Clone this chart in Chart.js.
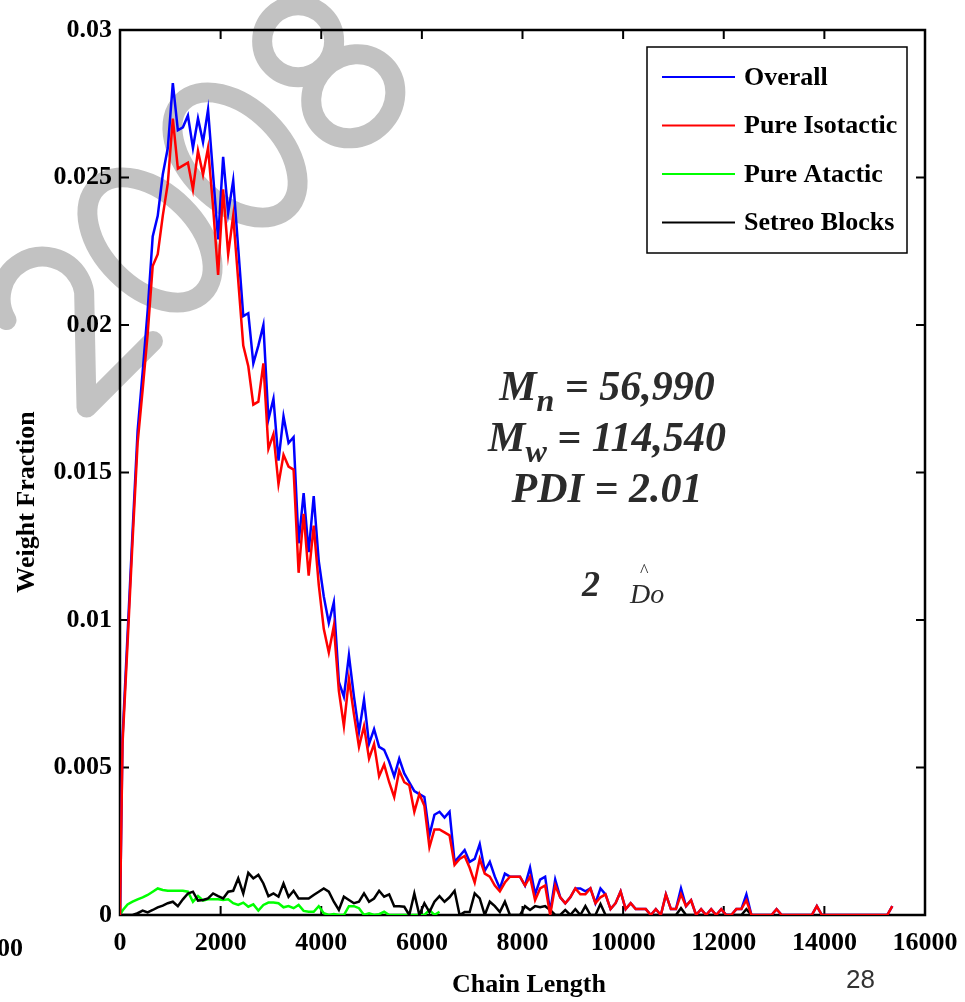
<!DOCTYPE html>
<html>
<head>
<meta charset="utf-8">
<script src="https://cdn.jsdelivr.net/npm/chart.js@4.4.1/dist/chart.umd.min.js"></script>
<style>
  html, body { margin: 0; padding: 0; background: #fff; }
  canvas { display: block; }
</style>
</head>
<body>
<canvas id="mwdChart" width="965" height="1002"></canvas>
<script>
const serif = "'Liberation Serif', 'Times New Roman', serif";

// chain length bins: the origin, then bin centres every 100 units
const chainLength = [0].concat(Array.from({ length: 154 }, (_, i) => 50 + 100 * i));

const overall = [0,
  0.0060, 0.0095, 0.0130, 0.0164, 0.0184, 0.0205, 0.0230, 0.0237, 0.0251, 0.0260,
  0.0282, 0.0266, 0.0267, 0.0271, 0.0260, 0.0270, 0.0262, 0.0273, 0.0251, 0.0229,
  0.0257, 0.0238, 0.0249, 0.0226, 0.0203, 0.0204, 0.0187, 0.0193, 0.0200, 0.0168,
  0.0175, 0.0154, 0.0169, 0.0160, 0.0162, 0.0126, 0.0143, 0.0123, 0.0142, 0.0120,
  0.0108, 0.0099, 0.0106, 0.0079, 0.0074, 0.0088, 0.0074, 0.0062, 0.0073, 0.0058,
  0.0063, 0.0057, 0.0056, 0.0052, 0.0047, 0.0053, 0.0048, 0.0045, 0.0042, 0.0041,
  0.0040, 0.0027, 0.0034, 0.0035, 0.0033, 0.0035, 0.0018, 0.0020, 0.0022, 0.0018,
  0.0019, 0.0024, 0.0015, 0.0018, 0.0013, 0.0009, 0.0014, 0.0013, 0.0013, 0.0013,
  0.0010, 0.0016, 0.0007, 0.0012, 0.0013, 0.0001, 0.0012, 0.0006, 0.0004, 0.0006,
  0.0009, 0.0009, 0.0008, 0.0009, 0.0004, 0.0009, 0.0007, 0.0002, 0.0004, 0.0008,
  0.0002, 0.0004, 0.0002, 0.0002, 0.0002, 0, 0.0002, 0, 0.0007, 0.0002,
  0.0002, 0.0009, 0.0003, 0.0005, 0, 0.0002, 0, 0.0002, 0, 0.0002,
  0, 0, 0.0002, 0.0002, 0.0007, 0, 0, 0, 0, 0,
  0.0002, 0, 0, 0, 0, 0, 0, 0, 0.0003, 0,
  0, 0, 0, 0, 0, 0, 0, 0, 0, 0,
  0, 0, 0, 0.0003];

const isotactic = [0,
  0.0058, 0.0092, 0.0127, 0.0160, 0.0178, 0.0197, 0.0220, 0.0224, 0.0237, 0.0248,
  0.0270, 0.0253, 0.0254, 0.0255, 0.0246, 0.0259, 0.0251, 0.0260, 0.0240, 0.0217,
  0.0246, 0.0224, 0.0237, 0.0215, 0.0193, 0.0186, 0.0173, 0.0174, 0.0187, 0.0158,
  0.0163, 0.0146, 0.0156, 0.0152, 0.0151, 0.0116, 0.0136, 0.0115, 0.0132, 0.0112,
  0.0097, 0.0089, 0.0098, 0.0076, 0.0064, 0.0080, 0.0068, 0.0057, 0.0064, 0.0053,
  0.0058, 0.0047, 0.0051, 0.0045, 0.0040, 0.0049, 0.0045, 0.0044, 0.0035, 0.0041,
  0.0037, 0.0023, 0.0029, 0.0029, 0.0028, 0.0027, 0.0017, 0.0019, 0.0020, 0.0016,
  0.0011, 0.0019, 0.0014, 0.0013, 0.0010, 0.0008, 0.0011, 0.0013, 0.0013, 0.0013,
  0.0010, 0.0013, 0.0005, 0.0009, 0.0010, 0, 0.0010, 0.0006, 0.0004, 0.0006,
  0.0009, 0.0007, 0.0007, 0.0009, 0.0004, 0.0006, 0.0007, 0.0002, 0.0004, 0.0008,
  0.0002, 0.0004, 0.0002, 0.0002, 0.0002, 0, 0.0002, 0, 0.0007, 0.0002,
  0.0002, 0.0007, 0.0003, 0.0005, 0, 0.0002, 0, 0.0002, 0, 0.0002,
  0, 0, 0.0002, 0.0002, 0.0005, 0, 0, 0, 0, 0,
  0.0002, 0, 0, 0, 0, 0, 0, 0, 0.0003, 0,
  0, 0, 0, 0, 0, 0, 0, 0, 0, 0,
  0, 0, 0, 0.0003];

const atactic = [0,
  0.00015, 0.00036, 0.00045, 0.00053, 0.00060, 0.00068, 0.00079, 0.00090, 0.00085, 0.00082,
  0.00082, 0.00082, 0.00082, 0.00079, 0.00045, 0.00064, 0.00049, 0.00053, 0.00053, 0.00053,
  0.00051, 0.00053, 0.00040, 0.00034, 0.00042, 0.00028, 0.00036, 0.00015, 0.00034, 0.00042,
  0.00042, 0.00040, 0.00026, 0.00030, 0.00023, 0.00034, 0.00014, 0.00011, 0.00011, 0.00030,
  0.00006, 0, 0.00003, 0, 0, 0.00030, 0.00030, 0.00023, 0, 0.00006,
  0, 0.00003, 0.00011, 0, 0, 0, 0, 0, 0, 0,
  0, 0.00017, 0, 0.00011];

const stereoBlocks = [0,
  0, 0, 0, 0.00006, 0.00015, 0.00009, 0.00017, 0.00026, 0.00032, 0.00040,
  0.00045, 0.00030, 0.00053, 0.00073, 0.00079, 0.00049, 0.00051, 0.00056, 0.00073, 0.00064,
  0.00056, 0.00079, 0.00082, 0.00124, 0.00073, 0.00143, 0.00124, 0.00136, 0.00107, 0.00064,
  0.00073, 0.00062, 0.00107, 0.00062, 0.00082, 0.00056, 0.00056, 0.00056, 0.00068, 0.00079,
  0.00090, 0.00079, 0.00045, 0.00017, 0.00062, 0.00051, 0.00040, 0.00045, 0.00073, 0.00045,
  0.00056, 0.00082, 0.00062, 0.00070, 0.00030, 0.00030, 0.00028, 0, 0.00073, 0,
  0.00040, 0.00010, 0.00045, 0.00064, 0.00045, 0.00060, 0.00082, 0, 0.00010, 0.00010,
  0.00073, 0.00056, 0, 0.00045, 0.00030, 0.00010, 0.00045, 0, 0, 0,
  0.00030, 0.00017, 0.00030, 0.00026, 0.00030, 0.00017, 0, 0, 0.00017, 0,
  0.00020, 0, 0.00030, 0, 0, 0.00037, 0, 0, 0, 0,
  0, 0, 0, 0, 0, 0, 0, 0, 0, 0,
  0, 0.00023, 0, 0, 0, 0, 0, 0, 0, 0,
  0, 0, 0, 0, 0.00020, 0];

const xTicks = [0, 2000, 4000, 6000, 8000, 10000, 12000, 14000, 16000];
const yTicks = [0, 0.005, 0.01, 0.015, 0.02, 0.025, 0.03];

const seriesNames = ['Overall', 'Pure Isotactic', 'Pure Atactic', 'Setreo Blocks'];
const seriesColors = ['#0000ff', '#ff0000', '#00ff00', '#000000'];
const seriesValues = [overall, isotactic, atactic, stereoBlocks];
// red on top, then blue, black, green
const seriesOrder = [1, 0, 3, 2];

function toPoints(values) {
  return values.map((v, i) => ({ x: chainLength[i], y: v }));
}

// gray "2008" outline stamped across the upper left, reading up to the right
function drawStamp(ctx) {
  ctx.save();
  ctx.strokeStyle = '#c2c2c2';
  ctx.lineWidth = 20;
  ctx.lineCap = 'round';
  ctx.lineJoin = 'round';
  const angle = -45 * Math.PI / 180;
  const centres = [[66, 322], [150, 240], [235, 155], [325, 68]];
  const glyphs = ['2', '0', '0', '8'];
  glyphs.forEach((g, i) => {
    ctx.save();
    ctx.translate(centres[i][0], centres[i][1]);
    ctx.rotate(angle);
    ctx.beginPath();
    if (g === '0') {
      ctx.ellipse(0, 0, 47, 75, 0, 0, Math.PI * 2);
    } else if (g === '8') {
      ctx.ellipse(0, -38, 36, 36, 0, 0, Math.PI * 2);
      ctx.moveTo(44, 40);
      ctx.ellipse(0, 40, 44, 40, 0, 0, Math.PI * 2);
    } else {
      ctx.arc(0, -33, 42, Math.PI * 1.08, Math.PI * 0.2);
      ctx.lineTo(-46, 75);
      ctx.lineTo(48, 75);
    }
    ctx.stroke();
    ctx.restore();
  });
  ctx.restore();
}

function drawRich(ctx, parts, cx, baseline) {
  let width = 0;
  parts.forEach(p => { ctx.font = p.font; width += ctx.measureText(p.text).width; });
  let x = cx - width / 2;
  parts.forEach(p => {
    ctx.font = p.font;
    ctx.fillText(p.text, x, baseline + (p.dy || 0));
    x += ctx.measureText(p.text).width;
  });
}

const decor = {
  id: 'decor',
  beforeDraw(chart) {
    const ctx = chart.ctx;
    ctx.save();
    ctx.fillStyle = '#fff';
    ctx.fillRect(0, 0, chart.width, chart.height);
    ctx.restore();
    drawStamp(ctx);
  },
  beforeDatasetsDraw(chart) {
    const ctx = chart.ctx;
    const a = chart.chartArea;
    const xs = chart.scales.x, ys = chart.scales.y;
    ctx.save();
    ctx.strokeStyle = '#000';
    ctx.lineWidth = 2.5;
    ctx.strokeRect(a.left, a.top, a.right - a.left, a.bottom - a.top);
    ctx.lineWidth = 2;
    ctx.beginPath();
    xs.ticks.forEach(t => {
      if (t.value <= xs.min || t.value >= xs.max) return;
      const px = xs.getPixelForValue(t.value);
      ctx.moveTo(px, a.bottom); ctx.lineTo(px, a.bottom - 9);
      ctx.moveTo(px, a.top); ctx.lineTo(px, a.top + 9);
    });
    ys.ticks.forEach(t => {
      if (t.value <= ys.min || t.value >= ys.max) return;
      const py = ys.getPixelForValue(t.value);
      ctx.moveTo(a.left, py); ctx.lineTo(a.left + 9, py);
      ctx.moveTo(a.right, py); ctx.lineTo(a.right - 9, py);
    });
    ctx.stroke();
    ctx.restore();
  },
  afterDraw(chart) {
    const ctx = chart.ctx;
    ctx.save();

    // legend
    ctx.fillStyle = '#fff';
    ctx.fillRect(647, 47, 260, 206);
    ctx.strokeStyle = '#000';
    ctx.lineWidth = 1.5;
    ctx.strokeRect(647, 47, 260, 206);
    ctx.font = 'bold 26px ' + serif;
    ctx.textBaseline = 'middle';
    ctx.textAlign = 'left';
    chart.data.datasets.forEach((ds, i) => {
      const y = 77 + i * 48.5;
      ctx.strokeStyle = ds.borderColor;
      ctx.lineWidth = 2;
      ctx.beginPath();
      ctx.moveTo(662, y);
      ctx.lineTo(735, y);
      ctx.stroke();
      ctx.fillStyle = '#000';
      ctx.fillText(ds.label, 744, y + 1);
    });

    // axis titles
    ctx.fillStyle = '#000';
    ctx.font = 'bold 26px ' + serif;
    ctx.textAlign = 'center';
    ctx.fillText('Chain Length', 529, 985);
    ctx.save();
    ctx.translate(27, 502);
    ctx.rotate(-Math.PI / 2);
    ctx.fillText('Weight Fraction', 0, 0);
    ctx.restore();

    // molecular weight summary
    ctx.fillStyle = '#2b2b2b';
    ctx.textAlign = 'left';
    ctx.textBaseline = 'alphabetic';
    const big = 'italic bold 42px ' + serif;
    const sub = 'italic bold 32px ' + serif;
    drawRich(ctx, [{ text: 'M', font: big }, { text: 'n', font: sub, dy: 11 }, { text: ' = 56,990', font: big }], 607, 400);
    drawRich(ctx, [{ text: 'M', font: big }, { text: 'w', font: sub, dy: 11 }, { text: ' = 114,540', font: big }], 607, 451);
    drawRich(ctx, [{ text: 'PDI = 2.01', font: big }], 607, 502);

    ctx.font = 'italic bold 36px ' + serif;
    ctx.fillText('2', 582, 596);
    ctx.font = 'italic 28px ' + serif;
    ctx.fillText('Do', 630, 603);
    ctx.font = '18px ' + serif;
    ctx.fillText('^', 640, 577);

    // page furniture
    ctx.fillStyle = '#000';
    ctx.font = 'bold 26px ' + serif;
    ctx.textBaseline = 'middle';
    ctx.fillText('00', -3, 949);
    ctx.fillStyle = '#333';
    ctx.font = "26px 'Liberation Sans', Arial, sans-serif";
    ctx.textBaseline = 'alphabetic';
    ctx.fillText('28', 846, 988);
    ctx.restore();
  }
};

const ctx = document.getElementById('mwdChart').getContext('2d');
new Chart(ctx, {
  type: 'line',
  data: {
    datasets: seriesNames.map((name, i) => ({
      label: name,
      data: toPoints(seriesValues[i]),
      borderColor: seriesColors[i],
      backgroundColor: seriesColors[i],
      borderWidth: 2.5,
      pointRadius: 0,
      tension: 0,
      fill: false,
      order: seriesOrder[i]
    }))
  },
  options: {
    responsive: false,
    animation: false,
    layout: { padding: { left: 0, top: 30, right: 40, bottom: 0 } },
    plugins: {
      legend: { display: false },
      tooltip: { enabled: false }
    },
    scales: {
      x: {
        type: 'linear',
        min: 0,
        max: 16000,
        afterFit: s => { s.height = 87; s.paddingLeft = 0; s.paddingRight = 0; },
        afterBuildTicks: s => { s.ticks = xTicks.map(v => ({ value: v })); },
        grid: { display: false, drawTicks: false },
        border: { display: false },
        ticks: {
          padding: 13,
          maxRotation: 0,
          autoSkip: false,
          color: '#000',
          font: { family: serif, size: 26, weight: 'bold' },
          callback: v => String(v)
        }
      },
      y: {
        min: 0,
        max: 0.03,
        afterFit: s => { s.width = 120; s.paddingTop = 0; s.paddingBottom = 0; },
        afterBuildTicks: s => { s.ticks = yTicks.map(v => ({ value: v })); },
        grid: { display: false, drawTicks: false },
        border: { display: false },
        ticks: {
          padding: 8,
          autoSkip: false,
          color: '#000',
          font: { family: serif, size: 26, weight: 'bold' },
          callback: v => String(Number(v.toFixed(3)))
        }
      }
    }
  },
  plugins: [decor]
});
</script>
</body>
</html>
